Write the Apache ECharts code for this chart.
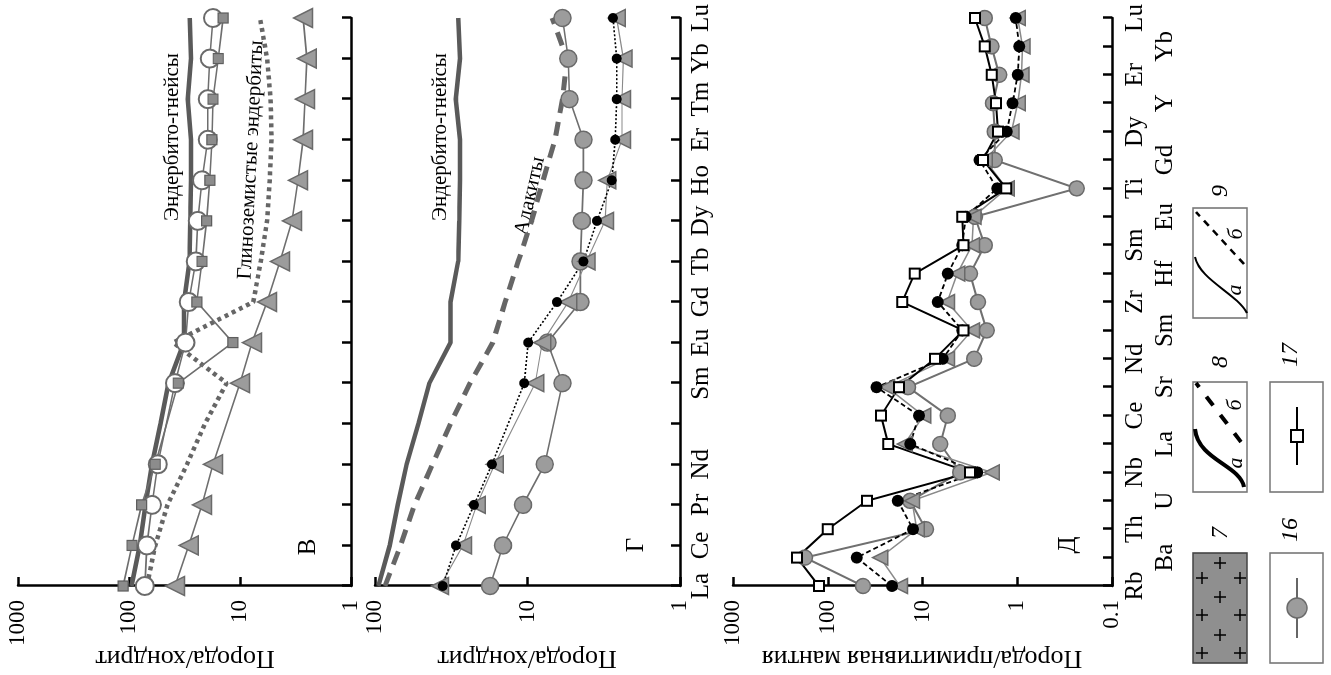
<!DOCTYPE html>
<html>
<head>
<meta charset="utf-8">
<script src="https://cdn.jsdelivr.net/npm/echarts@6/dist/echarts.min.js"></script>
<style>
html, body { margin: 0; padding: 0; background: #fff; overflow: hidden; }
#stage { position: absolute; left: 0; top: 0; width: 1331px; height: 675px; overflow: hidden; }
/* the figure is laid out upright and then turned a quarter turn, like the printed page */
#chart { position: absolute; left: 0; top: 0; width: 675px; height: 1331px;
  transform-origin: 0 0; transform: translate(0, 675px) rotate(-90deg); }
</style>
</head>
<body>
<div id="stage"><div id="chart"></div></div>
<script>
// categories
const reeCats = ['La', 'Ce', 'Pr', 'Nd', '', 'Sm', 'Eu', 'Gd', 'Tb', 'Dy', 'Ho', 'Er', 'Tm', 'Yb', 'Lu'];
const spiderCats = ['Rb', 'Ba', 'Th', 'U', 'Nb', 'La', 'Ce', 'Sr', 'Nd', 'Sm', 'Zr', 'Hf', 'Sm', 'Eu', 'Ti', 'Gd', 'Dy', 'Y', 'Er', 'Yb', 'Lu'];

// tick labels of the log axes
const ticksV = [1, 10, 100, 1000];
const ticksG = [1, 10, 100];
const ticksD = [0.1, 1, 10, 100, 1000];

// panel В (rock / chondrite)
const gneissRee = [95, 80, 71, 62, 52, 44, 32, 32, 28.5, 28, 27.7, 27.7, 29.5, 27.7, 28.4];
const aluminousEnderbite = [69, 58, 45, 30, 20.7, 13.2, 40, 7.6, 6.5, 5.7, 5.4, 5.2, 5.3, 5.7, 6.6];
const vOpenCircle = [72, 69, 62, 55, null, 38.5, 31, 29, 25, 24, 22, 19.5, 19.5, 18.7, 17.5];
const vSquare = [113, 94, 77, 58, null, 36, 11.6, 24.5, 22, 20, 18.7, 17.9, 17.5, 15.7, 14.2];
const vTriangle = [38.5, 29, 22, 17.5, null, 10, 7.8, 5.7, 4.36, 3.4, 3.0, 2.7, 2.6, 2.5, 2.7];

// panel Г (rock / chondrite)
const adakite = [86, 68, 55, 42, 32, 23.8, 16.9, 14.0, 11.5, 9.4, 7.9, 6.6, 5.9, 5.5, 6.9];
const gCircle = [17.6, 14.5, 10.7, 7.7, null, 5.9, 7.4, 4.5, 4.5, 4.4, 4.3, 4.3, 5.3, 5.4, 5.9];
const gDot = [36, 29.4, 22.4, 17.1, null, 10.5, 9.9, 6.4, 4.3, 3.5, 2.8, 2.66, 2.6, 2.6, 2.75];
const gTriangle = [37.5, 26.5, 21.5, 16.4, null, 8.9, 8.0, 5.4, 4.1, 3.1, 3.0, 2.4, 2.4, 2.35, 2.6];

// panel Д (rock / primitive mantle)
const dSquare = [124, 211, 100, 38.5, 3.15, 23, 27.4, 17.7, 7.4, 3.7, 16.4, 12.1, 3.7, 3.8, 1.31, 2.3, 1.6, 1.68, 1.86, 2.2, 2.8];
const dCircle = [42.5, 174, 9.2, 13.5, 4.0, 6.5, 5.4, 14.2, 2.85, 2.1, 2.6, 3.15, 2.2, 2.8, 0.236, 1.73, 1.73, 1.8, 1.55, 1.87, 2.2];
const dDot = [21, 49.5, 12.6, 18.2, 2.65, 13.5, 10.9, 30.5, 6.1, 3.8, 6.9, 5.4, 3.8, 3.5, 1.63, 2.5, 1.29, 1.12, 0.99, 0.95, 1.04];
const dTriangle = [17.3, 28, 11.5, 12.9, 1.86, 15.4, 9.8, 23.7, 5.5, 3.0, 5.5, 4.3, 3.0, 2.9, 1.29, 2.2, 1.15, 0.99, 0.9, 0.88, 0.99];

const serif = '"Liberation Serif", "Times New Roman", serif';
const AX = { color: '#000', width: 2.5 };

function catAxis(i, cats, label) {
  return {
    type: 'category', gridIndex: i, data: cats, boundaryGap: false,
    axisLine: { onZero: false, lineStyle: AX },
    axisTick: { show: true, inside: true, length: 9, interval: 0, lineStyle: AX },
    axisLabel: label || { show: false },
    splitLine: { show: false }
  };
}

function logAxis(i, ticks) {
  return {
    type: 'log', logBase: 10, gridIndex: i,
    min: ticks[0], max: ticks[ticks.length - 1],
    axisLine: { show: true, lineStyle: AX },
    axisTick: { show: true, inside: true, length: 9, lineStyle: AX },
    minorTick: { show: false },
    splitLine: { show: false },
    axisLabel: { color: '#000', fontFamily: serif, fontSize: 23, margin: 14,
      formatter: function (v) { return String(+v.toPrecision(6)); } }
  };
}

function line(name, data, i, extra) {
  return Object.assign({
    name: name, type: 'line', xAxisIndex: i, yAxisIndex: i, data: data,
    connectNulls: true, animation: false, silent: true, showAllSymbol: true,
    symbol: 'none'
  }, extra);
}

const envelope = { color: '#5a5a5a', width: 4.5 };
const thinGray = { color: '#6e6e6e', width: 1.6 };
const grayFill = { color: '#9c9c9c', borderColor: '#6a6a6a', borderWidth: 1.5 };

const series = [
  // В
  line('Эндербито-гнейсы', gneissRee, 0, { lineStyle: envelope }),
  line('Глиноземистые эндербиты', aluminousEnderbite, 0, { lineStyle: { color: '#666', width: 4.5, type: [4, 4] } }),
  line('В кружки', vOpenCircle, 0, { symbol: 'circle', symbolSize: 18, lineStyle: thinGray,
    itemStyle: { color: '#fff', borderColor: '#6a6a6a', borderWidth: 2 } }),
  line('В квадраты', vSquare, 0, { symbol: 'rect', symbolSize: 10, lineStyle: thinGray,
    itemStyle: { color: '#8c8c8c', borderColor: '#5e5e5e', borderWidth: 1.2 } }),
  line('В треугольники', vTriangle, 0, { symbol: 'triangle', symbolSize: 19, lineStyle: thinGray, itemStyle: grayFill }),
  // Г
  line('Эндербито-гнейсы', gneissRee, 1, { lineStyle: envelope }),
  line('Адакиты', adakite, 1, { lineStyle: { color: '#666', width: 5, type: [14, 9] } }),
  line('Г кружки', gCircle, 1, { symbol: 'circle', symbolSize: 17, lineStyle: thinGray, itemStyle: grayFill }),
  line('Г треугольники', gTriangle, 1, { symbol: 'triangle', symbolSize: 17, lineStyle: { color: '#8a8a8a', width: 1.2 }, itemStyle: grayFill }),
  line('Г точки', gDot, 1, { symbol: 'circle', symbolSize: 10, lineStyle: { color: '#000', width: 1.6, type: [2, 2] },
    itemStyle: { color: '#000' } }),
  // Д
  line('16', dCircle, 2, { symbol: 'circle', symbolSize: 15, lineStyle: { color: '#707070', width: 2 }, itemStyle: grayFill }),
  line('Д треугольники', dTriangle, 2, { symbol: 'triangle', symbolSize: 15, lineStyle: { color: '#8a8a8a', width: 1.5 }, itemStyle: grayFill }),
  line('Д точки', dDot, 2, { symbol: 'circle', symbolSize: 12, lineStyle: { color: '#000', width: 1.8, type: [5, 3] },
    itemStyle: { color: '#000' } }),
  line('17', dSquare, 2, { symbol: 'rect', symbolSize: 10, lineStyle: { color: '#000', width: 2 },
    itemStyle: { color: '#fff', borderColor: '#000', borderWidth: 2 } })
];

function txt(text, x, y, size, extra) {
  return Object.assign({
    type: 'text', x: x, y: y, silent: true,
    style: { text: text, fill: '#000', font: size + 'px ' + serif, align: 'center', verticalAlign: 'middle' }
  }, extra);
}
function itxt(text, x, y, size) {
  const t = txt(text, x, y, size);
  t.style.font = 'italic ' + size + 'px ' + serif;
  return t;
}
function seg(x1, y1, x2, y2, w, dash) {
  return { type: 'line', silent: true, shape: { x1: x1, y1: y1, x2: x2, y2: y2 },
    style: { stroke: '#000', lineWidth: w, lineDash: dash || null } };
}
function box(x, y, w, h, fill, stroke) {
  return { type: 'rect', silent: true, shape: { x: x, y: y, width: w, height: h },
    style: { fill: fill, stroke: stroke, lineWidth: 1.6 } };
}

const graphics = [
  // axis titles, centred on each log axis
  txt('Порода/хондрит', 17, 185, 26, { rotation: Math.PI / 2 }),
  txt('Порода/хондрит', 17, 527, 26, { rotation: Math.PI / 2 }),
  txt('Порода/примитивная мантия', 17, 922, 26, { rotation: Math.PI / 2 }),
  txt('В', 128, 308, 25), txt('Г', 130, 636, 25), txt('Д', 130, 1068, 25),
  txt('Эндербито-гнейсы', 538, 172, 21),
  txt('Глиноземистые эндербиты', 515, 251, 21, { rotation: -0.05 }),
  txt('Эндербито-гнейсы', 538, 440, 21),
  txt('Адакиты', 479, 530, 21, { rotation: -0.22 }),
  // legend 7
  box(12, 1193, 110, 54, '#8f8f8f', '#444')
];
const plus = [[112, 1220], [97, 1202], [97, 1240], [78, 1220], [60, 1202], [60, 1240], [40, 1220], [22, 1202], [22, 1240]];
plus.forEach(function (p) {
  graphics.push(seg(p[0] - 6, p[1], p[0] + 6, p[1], 1.5), seg(p[0], p[1] - 6, p[0], p[1] + 6, 1.5));
});
graphics.push(
  itxt('7', 142, 1221, 24),
  // legend 8
  box(183, 1193, 110, 54, '#fff', '#777'),
  { type: 'bezierCurve', silent: true,
    shape: { x1: 188, y1: 1244, cpx1: 210, cpy1: 1240, cpx2: 215, cpy2: 1198, x2: 246, y2: 1195 },
    style: { stroke: '#000', lineWidth: 4, fill: null } },
  seg(233, 1241, 292, 1196, 4, [11, 12]),
  itxt('а', 212, 1236, 22), itxt('б', 270, 1235, 22),
  itxt('8', 313, 1221, 24),
  // legend 9
  box(357, 1193, 110, 54, '#fff', '#777'),
  { type: 'bezierCurve', silent: true,
    shape: { x1: 362, y1: 1247, cpx1: 382, cpy1: 1236, cpx2: 395, cpy2: 1200, x2: 418, y2: 1195 },
    style: { stroke: '#000', lineWidth: 2, fill: null } },
  seg(411, 1244, 463, 1196, 2.5, [7, 6]),
  itxt('а', 385, 1235, 22), itxt('б', 441, 1236, 22),
  itxt('9', 484, 1221, 24),
  // legend 16
  box(12, 1270, 110, 53, '#fff', '#777'),
  { type: 'line', silent: true, shape: { x1: 37, y1: 1297, x2: 97, y2: 1297 }, style: { stroke: '#666', lineWidth: 2 } },
  { type: 'circle', silent: true, shape: { cx: 67, cy: 1297, r: 10 }, style: { fill: '#9c9c9c', stroke: '#6a6a6a', lineWidth: 1.5 } },
  itxt('16', 145, 1291, 24),
  // legend 17
  box(183, 1270, 110, 53, '#fff', '#777'),
  seg(210, 1297, 268, 1297, 2),
  { type: 'rect', silent: true, shape: { x: 233, y: 1291, width: 12, height: 12 }, style: { fill: '#fff', stroke: '#000', lineWidth: 2 } },
  itxt('17', 320, 1291, 24)
);

const chart = echarts.init(document.getElementById('chart'), null, { renderer: 'canvas' });
chart.setOption({
  backgroundColor: '#fff',
  animation: false,
  grid: [
    { left: 89, top: 18, width: 568, height: 333, containLabel: false, outerBoundsMode: 'none' },
    { left: 89, top: 375, width: 568, height: 305, containLabel: false, outerBoundsMode: 'none' },
    { left: 89, top: 733, width: 568, height: 379, containLabel: false, outerBoundsMode: 'none' }
  ],
  xAxis: [
    catAxis(0, reeCats, null),
    catAxis(1, reeCats, { interval: 0, color: '#000', fontFamily: serif, fontSize: 25, margin: 9 }),
    catAxis(2, spiderCats, { interval: 0, color: '#000', fontFamily: serif, fontSize: 25, margin: 8, lineHeight: 30,
      formatter: function (v, i) { return i % 2 ? '\n' + v : v; } })
  ],
  yAxis: [
    logAxis(0, ticksV),
    logAxis(1, ticksG),
    logAxis(2, ticksD)
  ],
  series: series,
  graphic: graphics
});
</script>
</body>
</html>
